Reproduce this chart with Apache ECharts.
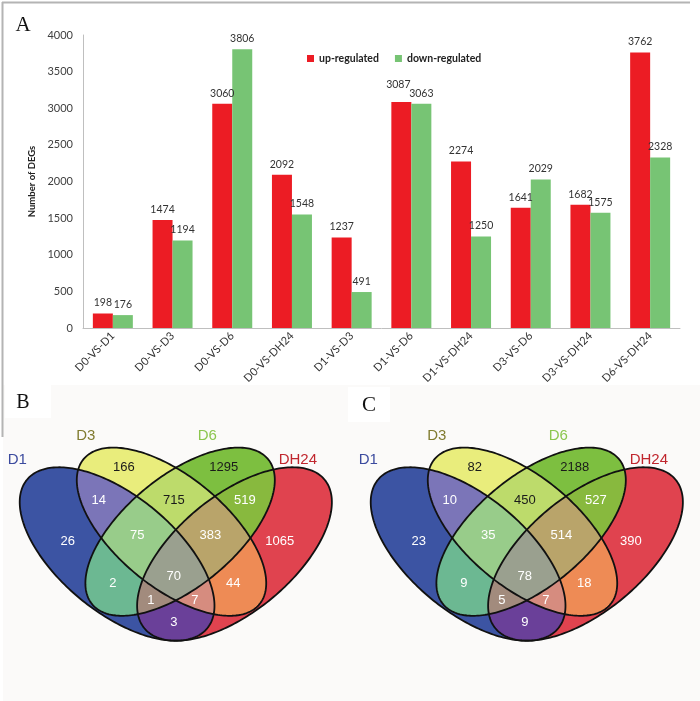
<!DOCTYPE html>
<html>
<head>
<meta charset="utf-8">
<script src="https://cdn.jsdelivr.net/npm/echarts@6/dist/echarts.min.js"></script>
<style>html,body{margin:0;padding:0;background:#fff}#chart{width:700px;height:701px}</style>
</head>
<body>
<div id="chart"></div>
<script>
// ---------- data ----------
const categories = ['D0-VS-D1','D0-VS-D3','D0-VS-D6','D0-VS-DH24','D1-VS-D3','D1-VS-D6','D1-VS-DH24','D3-VS-D6','D3-VS-DH24','D6-VS-DH24'];
const upRegulated = [198,1474,3060,2092,1237,3087,2274,1641,1682,3762];
const downRegulated = [176,1194,3806,1548,491,3063,1250,2029,1575,2328];
const seriesNames = ['up-regulated','down-regulated'];
const yMax = 4000, yInterval = 500;

const vennSets = ['D1','D3','D6','DH24'];
const regionKeys = ['D1','D3','D6','DH24','D1-D3','D1-D6','D1-DH24','D3-D6','D3-DH24','D6-DH24','D1-D3-D6','D1-D3-DH24','D1-D6-DH24','D3-D6-DH24','D1-D3-D6-DH24'];
const countsB = [26,166,1295,1065,14,2,3,715,44,519,75,7,1,383,70];
const countsC = [23,82,2188,390,10,9,9,450,18,527,35,7,5,514,78];

// ---------- layout / style ----------
const RED = '#ec1c24', GREEN = '#77c474';
const regionColor = {
  'D1':'#3c54a3','D3':'#e9ed7c','D6':'#7dbf40','DH24':'#e0434f',
  'D1-D3':'#7b75b8','D1-D6':'#6cb892','D1-DH24':'#6a4099','D3-D6':'#bddb6b','D3-DH24':'#ee8b55','D6-DH24':'#88b93e',
  'D1-D3-D6':'#98cc8a','D1-D3-DH24':'#d68c7f','D1-D6-DH24':'#a28b7d','D3-D6-DH24':'#b9a46a','D1-D3-D6-DH24':'#9aa08f'
};
const darkText = {'D3':1,'D6':1,'D3-D6':1};
const labelPos = {
  'D1':[-108,541.5],'D3':[-52,467],'D6':[48,467],'DH24':[104,541.5],
  'D1-D3':[-77,500],'D3-D6':[-2,500],'D6-DH24':[69,500],
  'D1-D3-D6':[-38.5,535],'D3-D6-DH24':[34.5,535],'D1-D3-D6-DH24':[-2,576],
  'D1-D6':[-63,583],'D3-DH24':[57.5,583],'D1-D6-DH24':[-25,600],'D1-D3-DH24':[19,600],'D1-DH24':[-2,622]
};
const setNamePos = {'D1':[-158.5,459.5],'D3':[-90,436],'D6':[31.5,436],'DH24':[122,459.5]};
const setNameColor = {'D1':'#3b4a9e','D3':'#807b30','D6':'#8cc64f','DH24':'#c0262e'};
// ellipse geometry: [dx from axis, cy, a, b, rotation sign]
const ellGeom = {'D1':[-58.7,554,116.8,58,1],'D3':[-4.3,531.7,114,55.2,1],'D6':[4.3,531.7,114,55.2,-1],'DH24':[58.7,554,116.8,58,-1]};
const ellTheta = 39.5;
const panels = [{axisX:175.8, counts:countsB}, {axisX:526.8, counts:countsC}];

function ellipsePts(cx, cy, a, b, th) {
  const pts = [], N = 240, c = Math.cos(th), s = Math.sin(th);
  for (let i = 0; i < N; i++) {
    const t = 2*Math.PI*i/N;
    pts.push([cx + a*Math.cos(t)*c - b*Math.sin(t)*s, cy + a*Math.cos(t)*s + b*Math.sin(t)*c]);
  }
  return pts;
}
function clipPoly(subject, clip) {
  let out = subject;
  for (let i = 0; i < clip.length; i++) {
    const A = clip[i], B = clip[(i+1)%clip.length];
    const inside = p => (B[0]-A[0])*(p[1]-A[1]) - (B[1]-A[1])*(p[0]-A[0]) >= 0;
    const inter = (P, Q) => {
      const x1=P[0],y1=P[1],x2=Q[0],y2=Q[1],x3=A[0],y3=A[1],x4=B[0],y4=B[1];
      const d = (x1-x2)*(y3-y4)-(y1-y2)*(x3-x4);
      const t = ((x1-x3)*(y3-y4)-(y1-y3)*(x3-x4))/d;
      return [x1+t*(x2-x1), y1+t*(y2-y1)];
    };
    const input = out; out = [];
    if (!input.length) break;
    let S = input[input.length-1];
    for (const E of input) {
      if (inside(E)) { if (!inside(S)) out.push(inter(S,E)); out.push(E); }
      else if (inside(S)) out.push(inter(S,E));
      S = E;
    }
  }
  return out;
}

const graphics = [];
graphics.push({type:'rect', shape:{x:3,y:385,width:697,height:316}, style:{fill:'#fbfaf9'}, z:-10});
graphics.push({type:'line', shape:{x1:2,y1:2.5,x2:690,y2:2.5}, style:{stroke:'#b4b4b4',lineWidth:2}, z:1});
graphics.push({type:'line', shape:{x1:2.5,y1:2,x2:2.5,y2:437}, style:{stroke:'#b4b4b4',lineWidth:2}, z:1});
graphics.push({type:'rect', shape:{x:5,y:385,width:46,height:33}, style:{fill:'#ffffff'}, z:-5});
graphics.push({type:'rect', shape:{x:348,y:387,width:42,height:35}, style:{fill:'#ffffff'}, z:-5});
graphics.push({type:'text', x:23, y:25, style:{text:'A', fontFamily:'Liberation Serif', fontSize:21, fill:'#111', align:'center', verticalAlign:'middle'}, z:5});
graphics.push({type:'text', x:23, y:403, style:{text:'B', fontFamily:'Liberation Serif', fontSize:20, fill:'#111', align:'center', verticalAlign:'middle'}, z:5});
graphics.push({type:'text', x:369, y:405, style:{text:'C', fontFamily:'Liberation Serif', fontSize:21, fill:'#111', align:'center', verticalAlign:'middle'}, z:5});

panels.forEach(p => {
  const polys = {};
  vennSets.forEach(k => {
    const g = ellGeom[k];
    polys[k] = ellipsePts(p.axisX + g[0], g[1], g[2], g[3], g[4]*ellTheta*Math.PI/180);
  });
  regionKeys.forEach(key => {
    const members = key.split('-');
    let poly = polys[members[0]];
    for (let i = 1; i < members.length; i++) poly = clipPoly(poly, polys[members[i]]);
    if (poly.length > 2)
      graphics.push({type:'polygon', shape:{points:poly}, style:{fill:regionColor[key]}, z:10+members.length});
  });
  vennSets.forEach(k => {
    graphics.push({type:'polygon', shape:{points:polys[k]}, style:{fill:'none', stroke:'#111', lineWidth:1.8}, z:20});
    const np = setNamePos[k];
    graphics.push({type:'text', x:p.axisX+np[0], y:np[1], style:{text:k, fontFamily:'Liberation Sans', fontSize:15, fill:setNameColor[k], align:'center', verticalAlign:'middle'}, z:21});
  });
  regionKeys.forEach((key, i) => {
    const lp = labelPos[key];
    graphics.push({type:'text', x:p.axisX+lp[0], y:lp[1], style:{text:String(p.counts[i]), fontFamily:'Liberation Sans', fontSize:13, fill: darkText[key] ? '#1a1a1a' : '#ffffff', align:'center', verticalAlign:'middle'}, z:22});
  });
});

// label nudges where neighbouring value labels would collide (style only)
const labelNudgeUp = {5:[-3,-7]};
const upData = upRegulated.map((v,i) => labelNudgeUp[i] ? {value:v, label:{offset:labelNudgeUp[i]}} : v);

const chart = echarts.init(document.getElementById('chart'), null, {renderer:'canvas'});
chart.setOption({
  backgroundColor:'#ffffff',
  animation:false,
  textStyle:{fontFamily:'Lato'},
  legend:{left:302, top:48, icon:'rect', itemWidth:7, itemHeight:7, itemGap:16, itemStyle:{borderWidth:0},
    textStyle:{fontWeight:'bold', fontSize:10.5, color:'#222', fontFamily:'Lato'}, data:seriesNames},
  grid:{left:83, right:20, top:35, height:293},
  xAxis:{type:'category', data:categories,
    axisLine:{lineStyle:{color:'#bfbfbf'}}, axisTick:{show:false},
    axisLabel:{rotate:45, interval:0, fontSize:11, color:'#333', margin:6, fontFamily:'Lato'}},
  yAxis:{type:'value', min:0, max:yMax, interval:yInterval,
    splitLine:{show:false}, axisLine:{show:true, lineStyle:{color:'#bfbfbf'}}, axisTick:{show:false},
    axisLabel:{fontSize:11, color:'#404040', margin:10, fontFamily:'Lato', formatter: v => String(v)},
    name:'Number of DEGs', nameLocation:'middle', nameGap:31,
    nameTextStyle:{fontWeight:'bold', fontSize:9.5, color:'#222', fontFamily:'Lato'}},
  series:[
    {name:seriesNames[0], type:'bar', data:upData, itemStyle:{color:RED}, barGap:'0%', barCategoryGap:'33%',
      label:{show:true, position:'top', fontSize:10.5, color:'#333', distance:5, fontFamily:'Lato'}},
    {name:seriesNames[1], type:'bar', data:downRegulated, itemStyle:{color:GREEN}, barGap:'0%', barCategoryGap:'33%',
      label:{show:true, position:'top', fontSize:10.5, color:'#333', distance:5, fontFamily:'Lato'}}
  ],
  graphic:{elements:graphics}
});
</script>
</body>
</html>
